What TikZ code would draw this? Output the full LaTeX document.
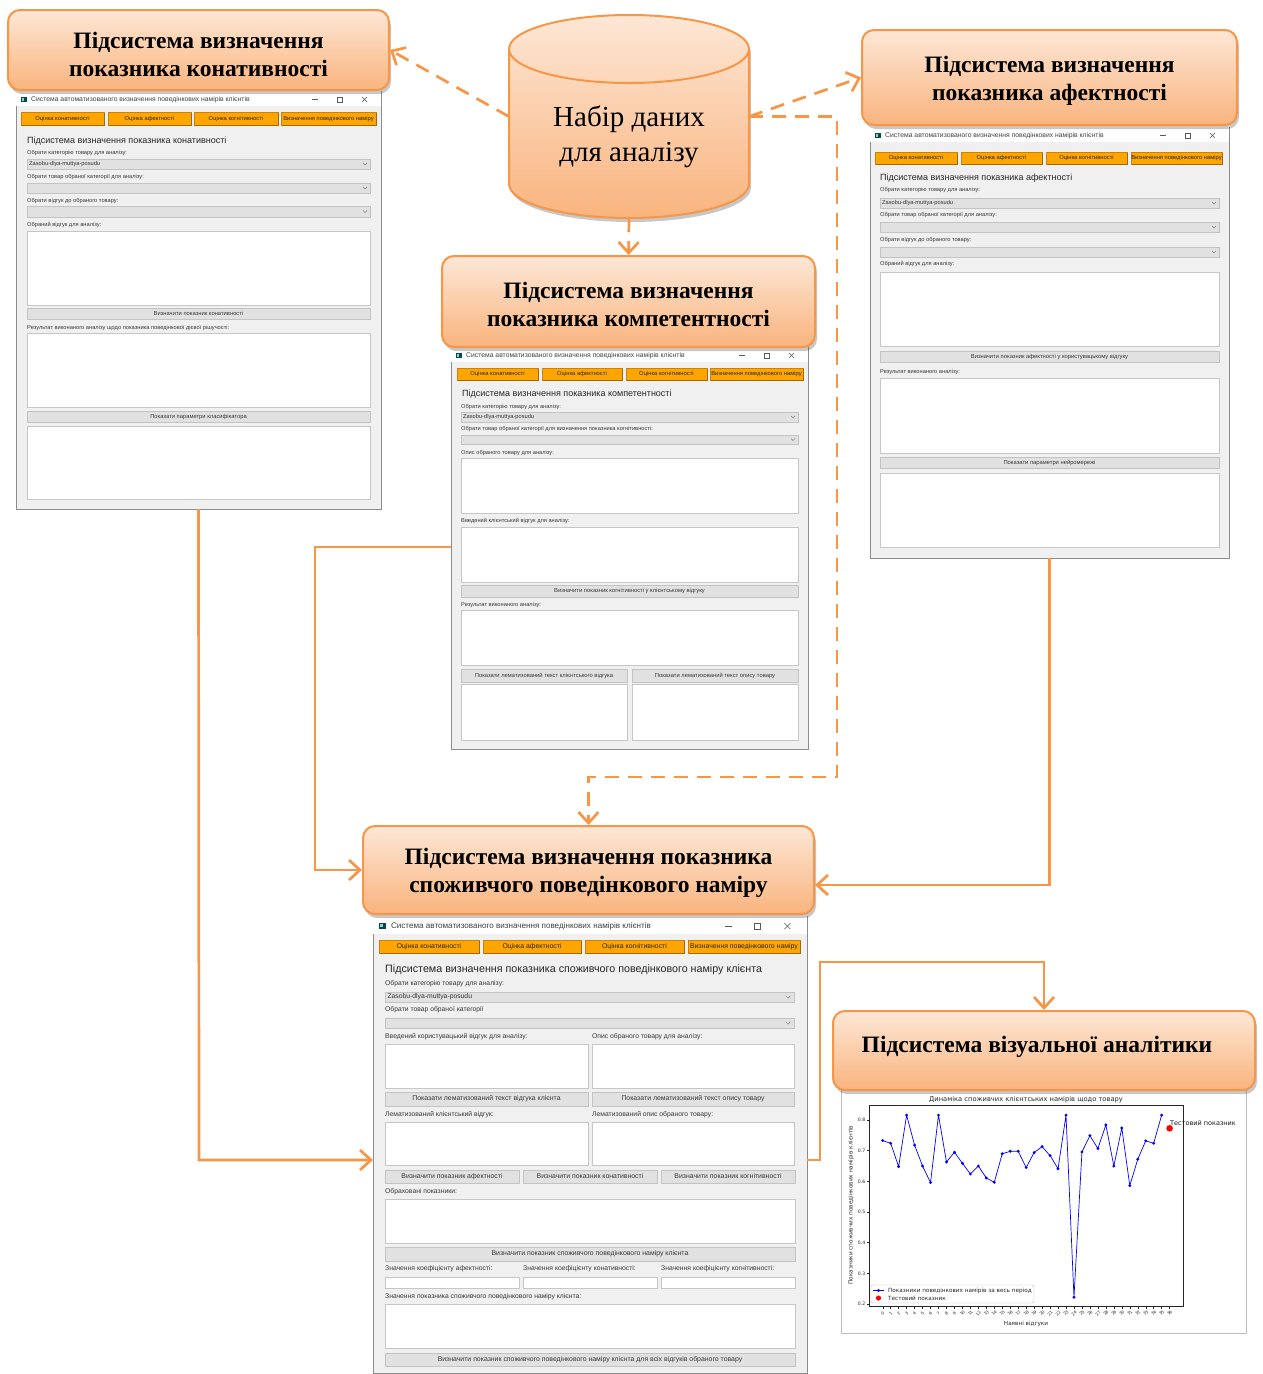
\documentclass[tikz,border=0pt]{standalone}
\usepackage{fontspec}
\setmainfont{Liberation Serif}
\newfontfamily\uisans{Liberation Sans}
\newfontfamily\plotsans{DejaVu Sans}
\usetikzlibrary{arrows.meta,shadows}

\definecolor{accent}{RGB}{247,150,70}
\definecolor{boxtop}{RGB}{253,231,214}
\definecolor{boxbot}{RGB}{249,180,126}
\definecolor{winbg}{RGB}{240,240,240}
\definecolor{winborder}{RGB}{140,140,140}
\definecolor{obtnface}{RGB}{255,165,0}
\definecolor{obtnedge}{RGB}{200,130,20}
\definecolor{gface}{RGB}{225,225,225}
\definecolor{gedge}{RGB}{195,195,195}
\definecolor{areaedge}{RGB}{198,198,198}
\definecolor{uitext}{RGB}{55,55,55}
\definecolor{plotblue}{RGB}{0,0,255}

% scale factor for the fonts and decorations of one window
\def\uis{1}
\newcommand\uif[1]{\fontsize{\fpeval{#1*\uis}}{\fpeval{1.2*#1*\uis}}\selectfont}

\tikzset{
  win/.style={draw=winborder, fill=winbg, line width=0.6pt, inner sep=0pt, outer sep=0pt},
  uititle/.style={font=\uisans\uif{6.8}, text=black!75, inner sep=0pt},
  uihead/.style={font=\uisans\uif{9.0}, text=black!85, inner sep=0pt, anchor=west},
  uilbl/.style={font=\uisans\uif{5.7}, text=uitext, inner sep=0pt, anchor=west},
  uibtntxt/.style={font=\uisans\uif{5.8}, text=uitext, inner sep=0pt},
  uiobtntxt/.style={font=\uisans\uif{5.8}, text=black!85, inner sep=0pt},
  gbtn/.style={draw=gedge, fill=gface, line width=0.5pt},
  obtn/.style={draw=obtnedge, fill=obtnface, line width=0.6pt},
  combo/.style={draw=gedge, fill=gface, line width=0.4pt},
  tarea/.style={draw=areaedge, fill=white, line width=0.8pt},
  subsys/.style={rounded corners=12pt, draw=accent, line width=2pt,
    top color=boxtop, bottom color=boxbot,
    drop shadow={shadow xshift=2pt, shadow yshift=-4pt, opacity=0.3, fill=black!70},
    inner sep=0pt},
  boxtxt/.style={align=center, inner sep=0pt, font=\bfseries\fontsize{23.5}{28}\selectfont},
  conn/.style={draw=accent, line width=2.7pt, -{Straight Barb[length=11pt,width=20pt]}},
  dconn/.style={conn, dash pattern=on 14pt off 9pt},
  ptitle/.style={font=\plotsans\fontsize{6.7}{7.5}\selectfont, inner sep=0pt, text=black!85},
  ptick/.style={font=\plotsans\fontsize{4.6}{5.2}\selectfont, inner sep=0pt, text=black!85},
  pxtick/.style={font=\plotsans\fontsize{4.2}{4.8}\selectfont, inner sep=0pt, text=black!85},
  plbl/.style={font=\plotsans\fontsize{5.7}{6.5}\selectfont, inner sep=0pt, text=black!85},
  pleg/.style={font=\plotsans\fontsize{5.7}{6.5}\selectfont, inner sep=0pt, anchor=west, text=black!85},
  pann/.style={font=\plotsans\fontsize{6.5}{7}\selectfont, inner sep=0pt, anchor=west, text=black!90},
}

% window frame with title bar
\newcommand\uiframe[5]{%
  \node[win, anchor=north west, minimum width={(#4-#2)*1pt}, minimum height={(#5-#3)*1pt}] (#1) at (#2,#3) {};
  \fill[white] ({#2+0.4},{#3+0.4}) rectangle ({#4-0.4},{#3+15*\uis});
  \fill[teal!60!black] ({#2+5*\uis},{#3+5.5*\uis}) rectangle ({#2+11*\uis},{#3+10.5*\uis});
  \fill[white!60!teal] ({#2+6*\uis},{#3+6.5*\uis}) rectangle ({#2+8*\uis},{#3+9.5*\uis});
  \node[uititle, anchor=west] (#1title) at ({#2+15*\uis},{#3+8.5*\uis}) {Система автоматизованого визначення поведінкових намірів клієнтів};
  \draw[black!65, line width=0.5pt] ({#4-69*\uis},{#3+8.5*\uis}) -- ({#4-63*\uis},{#3+8.5*\uis});
  \draw[black!65, line width=0.5pt] ({#4-44*\uis},{#3+6*\uis}) rectangle ({#4-39*\uis},{#3+11*\uis});
  \draw[black!65, line width=0.5pt] ({#4-19*\uis},{#3+6*\uis}) -- ({#4-14*\uis},{#3+11*\uis})
    ({#4-19*\uis},{#3+11*\uis}) -- ({#4-14*\uis},{#3+6*\uis});
}
\newcommand\uibtn[6]{\draw[gbtn] (#2,#3) rectangle (#4,#5);
  \node[uibtntxt] (#1) at ({(#2+#4)/2},{(#3+#5)/2}) {#6};}
\newcommand\uiobtn[6]{\draw[obtn] (#2,#3) rectangle (#4,#5);
  \draw[obtnedge!80!black, line width=0.6pt] ({#2+0.5},#5) -- (#4,#5) -- ({#4},{#3+0.5});
  \node[uiobtntxt] (#1) at ({(#2+#4)/2},{(#3+#5)/2}) {#6};}
\newcommand\uicombo[4]{\draw[combo] (#1,#2) rectangle (#3,#4);
  \draw[gray, line width=0.4pt] ({#3-7*\uis},{(#2+#4)/2-1*\uis}) -- ({#3-5*\uis},{(#2+#4)/2+1*\uis}) -- ({#3-3*\uis},{(#2+#4)/2-1*\uis});}
\newcommand\uival[4]{\node[uilbl, text=black!80] (#1) at ({#2+2*\uis},#3) {#4};}
\newcommand\uilbl[4]{\node[uilbl] (#1) at (#2,#3) {#4};}
\newcommand\uihead[4]{\node[uihead] (#1) at (#2,#3) {#4};}
\newcommand\uiarea[4]{\draw[tarea] (#1,#2) rectangle (#3,#4);}

\begin{document}
\begin{tikzpicture}[x=1pt,y=-1pt]
\useasboundingbox (0,0) rectangle (1262,1374);
\fill[white] (0,0) rectangle (1262,1374);

% ---------- window: conativity ----------
\def\uis{1}
\uiframe{w1}{16}{91}{381}{509}
\uiobtn{w1o1}{21}{112}{104}{125}{Оцінка конативності}
\uiobtn{w1o2}{108}{112}{191}{125}{Оцінка афектності}
\uiobtn{w1o3}{194}{112}{278}{125}{Оцінка когнітивності}
\uiobtn{w1o4}{281}{112}{376}{125}{Визначення поведінкового наміру}
\uihead{w1h}{27}{141}{Підсистема визначення показника конативності}
\uilbl{w1l1}{27}{153}{Обрати категорію товару для аналізу:}
\uicombo{27}{159}{370}{169}
\uival{w1v1}{27}{164}{Zasobu-dlya-muttya-posudu}
\uilbl{w1l2}{27}{177}{Обрати товар обраної категорії для аналізу:}
\uicombo{27}{183}{370}{193}
\uilbl{w1l3}{27}{201}{Обрати відгук до обраного товару:}
\uicombo{27}{206}{370}{217}
\uilbl{w1l4}{27}{225}{Обраний відгук для аналізу:}
\uiarea{27}{231}{370}{305}
\uibtn{w1b1}{27}{308}{370}{319}{Визначити показник конативності}
\uilbl{w1l5}{27}{328}{Результат виконаного аналізу щодо показника поведінкової дієвої рішучості:}
\uiarea{27}{333}{370}{407}
\uibtn{w1b2}{27}{411}{370}{422}{Показати параметри класифікатора}
\uiarea{27}{426}{370}{499}

% ---------- window: competence ----------
\uiframe{w2}{451}{347}{808}{749}
\uiobtn{w2o1}{457}{368}{538}{380}{Оцінка конативності}
\uiobtn{w2o2}{542}{368}{622}{380}{Оцінка афектності}
\uiobtn{w2o3}{626}{368}{707}{380}{Оцінка когнітивності}
\uiobtn{w2o4}{710}{368}{803}{380}{Визначення поведінкового наміру}
\uihead{w2h}{462}{394}{Підсистема визначення показника компетентності}
\uilbl{w2l1}{461}{407}{Обрати категорію товару для аналізу:}
\uicombo{461}{412}{798}{422}
\uival{w2v1}{461}{417}{Zasobu-dlya-muttya-posudu}
\uilbl{w2l2}{461}{429}{Обрати товар обраної категорії для визначення показника когнітивності:}
\uicombo{461}{435}{798}{444}
\uilbl{w2l3}{461}{453}{Опис обраного товару для аналізу:}
\uiarea{461}{458}{798}{513}
\uilbl{w2l4}{461}{521}{Введений клієнтський відгук для аналізу:}
\uiarea{461}{527}{798}{582}
\uibtn{w2b1}{461}{585}{798}{597}{Визначити показник когнітивності у клієнтському відгуку}
\uilbl{w2l5}{461}{605}{Результат виконаного аналізу:}
\uiarea{461}{610}{798}{665}
\uibtn{w2b2}{461}{669}{627}{682}{Показати лематизований текст клієнтського відгука}
\uibtn{w2b3}{632}{669}{798}{682}{Показати лематизований текст опису товару}
\uiarea{461}{684}{627}{740}
\uiarea{632}{684}{798}{740}

% ---------- window: affectivity ----------
\uiframe{w3}{870}{127}{1229}{558}
\uiobtn{w3o1}{875}{152}{957}{164}{Оцінка конативності}
\uiobtn{w3o2}{961}{152}{1042}{164}{Оцінка афектності}
\uiobtn{w3o3}{1046}{152}{1127}{164}{Оцінка когнітивності}
\uiobtn{w3o4}{1131}{152}{1222}{164}{Визначення поведінкового наміру}
\uihead{w3h}{880}{178}{Підсистема визначення показника афектності}
\uilbl{w3l1}{880}{190}{Обрати категорію товару для аналізу:}
\uicombo{880}{198}{1219}{208}
\uival{w3v1}{880}{203}{Zasobu-dlya-muttya-posudu}
\uilbl{w3l2}{880}{215}{Обрати товар обраної категорії для аналізу:}
\uicombo{880}{222}{1219}{232}
\uilbl{w3l3}{880}{240}{Обрати відгук до обраного товару:}
\uicombo{880}{247}{1219}{257}
\uilbl{w3l4}{880}{264}{Обраний відгук для аналізу:}
\uiarea{880}{272}{1219}{346}
\uibtn{w3b1}{880}{351}{1219}{362}{Визначити показник афектності у користувацькому відгуку}
\uilbl{w3l5}{880}{372}{Результат виконаного аналізу:}
\uiarea{880}{378}{1219}{453}
\uibtn{w3b2}{880}{457}{1219}{468}{Показати параметри нейромережі}
\uiarea{880}{473}{1219}{547}

% ---------- window: consumer behavioural intention ----------
\def\uis{1.19}
\uiframe{w4}{373}{916}{807}{1373}
\uiobtn{w4o1}{379}{940}{479}{953}{Оцінка конативності}
\uiobtn{w4o2}{483}{940}{581}{953}{Оцінка афектності}
\uiobtn{w4o3}{585}{940}{684}{953}{Оцінка когнітивності}
\uiobtn{w4o4}{688}{940}{800}{953}{Визначення поведінкового наміру}
\uihead{w4h}{385}{970}{Підсистема визначення показника споживчого поведінкового наміру клієнта}
\uilbl{w4l1}{385}{984}{Обрати категорію товару для аналізу:}
\uicombo{385}{992}{794}{1002}
\uival{w4v1}{385}{997}{Zasobu-dlya-muttya-posudu}
\uilbl{w4l2}{385}{1010}{Обрати товар обраної категорії}
\uicombo{385}{1018}{794}{1028}
\uilbl{w4l3}{385}{1037}{Введений користувацький відгук для аналізу:}
\uilbl{w4l4}{592}{1037}{Опис обраного товару для аналізу:}
\uiarea{385}{1044}{588}{1088}
\uiarea{592}{1044}{794}{1088}
\uibtn{w4b1}{385}{1092}{588}{1106}{Показати лематизований текст відгука клієнта}
\uibtn{w4b2}{592}{1092}{794}{1106}{Показати лематизований текст опису товару}
\uilbl{w4l5}{385}{1115}{Лематизований клієнтський відгук:}
\uilbl{w4l6}{592}{1115}{Лематизований опис обраного товару:}
\uiarea{385}{1122}{588}{1165}
\uiarea{592}{1122}{794}{1165}
\uibtn{w4b3}{385}{1170}{519}{1183}{Визначити показник афектності}
\uibtn{w4b4}{523}{1170}{657}{1183}{Визначити показник конативності}
\uibtn{w4b5}{661}{1170}{795}{1183}{Визначити показник когнітивності}
\uilbl{w4l7}{385}{1192}{Обраховані показники:}
\uiarea{385}{1199}{795}{1243}
\uibtn{w4b6}{385}{1247}{795}{1261}{Визначити показник споживчого поведінкового наміру клієнта}
\uilbl{w4l8}{385}{1269}{Значення коефіцієнту афектності:}
\uilbl{w4l9}{523}{1269}{Значення коефіцієнту конативності:}
\uilbl{w4l10}{661}{1269}{Значення коефіцієнту когнітивності:}
\uiarea{385}{1277}{519}{1288}
\uiarea{523}{1277}{657}{1288}
\uiarea{661}{1277}{795}{1288}
\uilbl{w4l11}{385}{1297}{Значення показника споживчого поведінкового наміру клієнта:}
\uiarea{385}{1304}{795}{1348}
\uibtn{w4b7}{385}{1353}{795}{1366}{Визначити показник споживчого поведінкового наміру клієнта для всіх відгуків обраного товару}

% ---------- chart of intentions ----------
\node[draw=black!25, fill=white, line width=0.6pt, minimum width=405pt, minimum height=243pt,
      anchor=north west, inner sep=0pt] (chart) at (841,1090) {};
\node[ptitle] (ctitle) at (1026,1100) {Динаміка споживчих клієнтських намірів щодо товару};
\draw[black!85, line width=0.5pt] (869,1105) rectangle (1183,1306);
\foreach \d in {2,...,8} {
  \draw[black!85, line width=0.4pt] (869,{1120+(8-\d)*30.667}) -- ++(-2.5,0);
  \node[ptick, anchor=east] (yt\d) at (865.5,{1120+(8-\d)*30.667}) {0.\d};
}
\foreach \i in {0,...,36} {
  \draw[black!85, line width=0.4pt] ({882.7+7.97*\i},1306) -- ++(0,2.5);
  \node[pxtick, rotate=45] (xt\i) at ({882.7+7.97*\i},1313) {\i};
}
\node[plbl, rotate=90] (ylab) at (851,1205) {Показники споживчих поведінкових намірів клієнтів};
\node[plbl] (xlab) at (1026,1324) {Наявні відгуки};
\def\vals{0.733,0.724,0.648,0.816,0.718,0.650,0.596,0.816,0.663,0.695,0.659,0.624,0.650,0.611,0.597,0.690,0.698,0.698,0.645,0.694,0.713,0.684,0.641,0.816,0.222,0.696,0.749,0.707,0.784,0.650,0.774,0.586,0.672,0.732,0.724,0.816}
\draw[plotblue, line width=0.7pt, line join=round] (882.7,1140.5)
  foreach \v [count=\i from 0] in \vals { -- ({882.7+7.97*\i},{1120+(0.8-\v)*306.67}) };
\foreach \v [count=\i from 0] in \vals {
  \fill[plotblue] ({882.7+7.97*\i},{1120+(0.8-\v)*306.67}) circle[radius=1.6pt];
}
\fill[red] (1169.6,1128.3) circle[radius=3.3pt];
\node[pann] (ann) at (1170,1123) {Тестовий показник};
\draw[black!25, fill=white, rounded corners=1.5pt, line width=0.4pt] (871,1285) rectangle (1034,1303);
\draw[plotblue, line width=0.7pt] (873,1290.5) -- (884,1290.5);
\fill[plotblue] (878.5,1290.5) circle[radius=1.6pt];
\node[pleg] (leg1) at (888,1290.5) {Показники поведінкових намірів за весь період};
\fill[red] (878.5,1298) circle[radius=2.6pt];
\node[pleg] (leg2) at (888,1298) {Тестовий показник};

% ---------- data set cylinder ----------
\fill[black, opacity=0.22, shift={(2,4)}] (509,49) -- (509,184)
  .. controls (509,202.8) and (562.7,218) .. (629,218) .. controls (695.3,218) and (749,202.8) .. (749,184)
  -- (749,49) .. controls (749,30.2) and (695.3,15) .. (629,15) .. controls (562.7,15) and (509,30.2) .. (509,49) -- cycle;
\path[top color=boxtop, bottom color=boxbot, draw=accent, line width=2pt] (509,49) -- (509,184)
  .. controls (509,202.8) and (562.7,218) .. (629,218) .. controls (695.3,218) and (749,202.8) .. (749,184)
  -- (749,49) .. controls (749,30.2) and (695.3,15) .. (629,15) .. controls (562.7,15) and (509,30.2) .. (509,49) -- cycle;
\draw[accent, line width=2pt] (509,49) .. controls (509,67.8) and (562.7,83) .. (629,83)
  .. controls (695.3,83) and (749,67.8) .. (749,49);
\node[minimum width=240pt, minimum height=203pt, inner sep=0pt] (cyl) at (629,116.5) {};
\node[align=center, inner sep=0pt, font=\fontsize{29}{35}\selectfont] (cyllbl) at (629,137) {Набір даних\\для аналізу};

% ---------- subsystem boxes ----------
\node[subsys, minimum width=381pt, minimum height=80pt] (b1) at (198.5,50) {};
\node[boxtxt] (b1t) at (198.5,54) {Підсистема визначення\\показника конативності};
\node[subsys, minimum width=375pt, minimum height=95pt] (b3) at (1049.5,77.5) {};
\node[boxtxt] (b3t) at (1049.5,80.5) {Підсистема визначення\\показника афектності};
\node[subsys, minimum width=373pt, minimum height=91pt] (b4) at (628.5,301.5) {};
\node[boxtxt] (b4t) at (628.5,304) {Підсистема визначення\\показника компетентності};
\node[subsys, minimum width=451pt, minimum height=88pt] (b5) at (588.5,870) {};
\node[boxtxt] (b5t) at (588.5,873) {Підсистема визначення показника\\споживчого поведінкового наміру};
\node[subsys, minimum width=422pt, minimum height=79pt] (b6) at (1044,1050.5) {};
\node[boxtxt] (b6t) at (1037,1046.5) {Підсистема візуальної аналітики};

% ---------- connectors ----------
\coordinate (dbend) at (837,777);
\coordinate (lbend) at (315,547);
\coordinate (rbend) at (1050,885);
\coordinate (vb1) at (820,1160);
\coordinate (vb2) at (820,962);
\coordinate (w1out) at (199,1160);

\draw[dconn] (cyl.west) -- (b1.east);
\draw[dconn] (cyl.east) -- (b3.west);
\draw[dconn] (cyl.south) -- (b4.north);
\draw[dconn] (cyl.east) -| (dbend) -| (b5.north);

\draw[conn] (w1.south) -- (w1out) -- (w4.west |- w1out);
\draw[conn] (w2.west |- lbend) -- (lbend) |- (b5.west);
\draw[conn] (w3.south) |- (b5.east |- rbend);
\draw[conn] (w4.east |- vb1) -- (vb1) -- (vb2) -| (b6.north);
\end{tikzpicture}
\end{document}
